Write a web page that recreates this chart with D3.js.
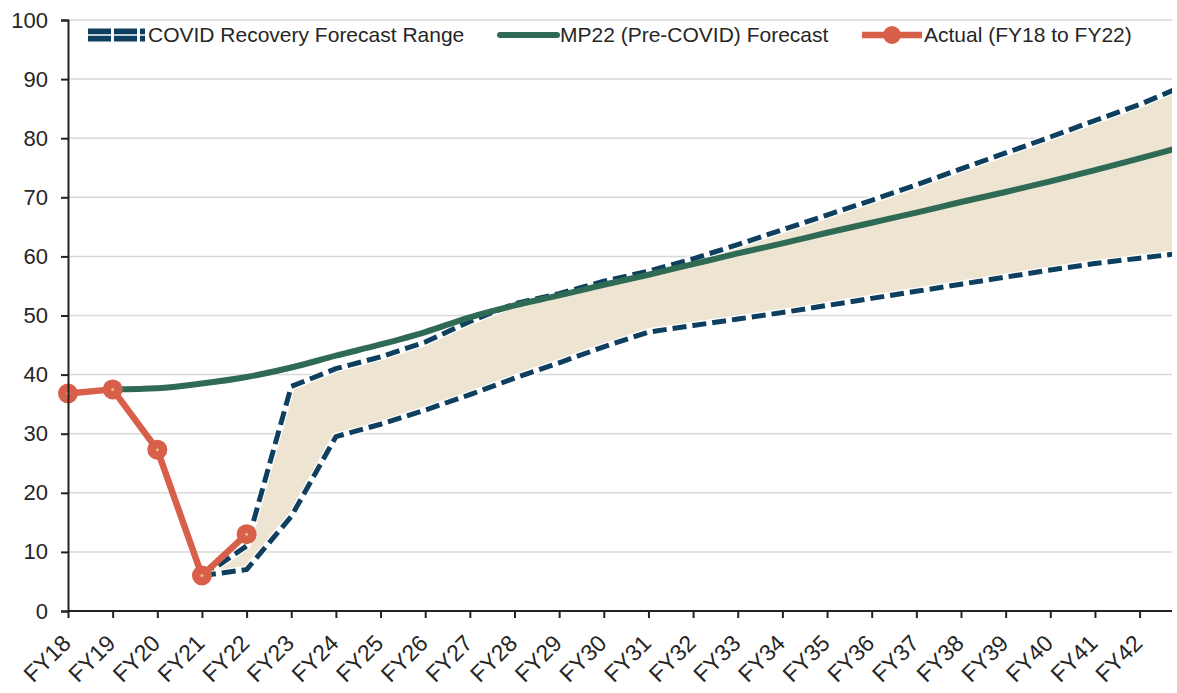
<!DOCTYPE html>
<html>
<head>
<meta charset="utf-8">
<script src="https://cdn.jsdelivr.net/npm/d3@7"></script>
<style>
  body { margin: 0; background: #fff; }
  text { font-family: "Liberation Sans", Arial, sans-serif; fill: #262626; }
</style>
</head>
<body>
<div id="chart"></div>
<script>
// categories (FY43 only continues the lines past the right edge, it is not labelled)
var years = ["FY18","FY19","FY20","FY21","FY22","FY23","FY24","FY25","FY26","FY27","FY28","FY29","FY30",
             "FY31","FY32","FY33","FY34","FY35","FY36","FY37","FY38","FY39","FY40","FY41","FY42","FY43"];
var tickLabels = years.slice(0, 25);
var yTicks = [0, 10, 20, 30, 40, 50, 60, 70, 80, 90, 100];

// series values (null = no value)
var mp22 = [null, 37.5, 37.7, 38.5, 39.6, 41.2, 43.2, 45.1, 47.2, 49.7, 51.7, 53.4, 55.2,
            56.9, 58.7, 60.5, 62.2, 64.0, 65.7, 67.4, 69.2, 70.9, 72.7, 74.6, 76.6, 78.6];
var rangeHigh = [null, null, null, 5.8, 11.0, 38.0, 41.0, 43.0, 45.5, 49.0, 52.0, 53.7, 55.8,
                 57.5, 59.6, 62.0, 64.5, 67.0, 69.5, 72.1, 74.8, 77.5, 80.2, 83.0, 85.7, 88.9];
var rangeLow = [null, null, null, 6.0, 7.0, 16.0, 29.5, 31.6, 34.0, 36.6, 39.4, 42.0, 44.7,
                47.2, 48.3, 49.4, 50.5, 51.7, 52.9, 54.1, 55.3, 56.5, 57.7, 58.8, 59.7, 60.6];
var actual = [36.8, 37.5, 27.3, 6.0, 13.0];

var legendNames = ["COVID Recovery Forecast Range", "MP22 (Pre-COVID) Forecast", "Actual (FY18 to FY22)"];

function drawChart() {
    var w = 1177, h = 693;
    var left = 68, right = 1172, top = 20, bottom = 611;

    var svg = d3.select("#chart").append("svg")
        .attr("width", w)
        .attr("height", h);

    var x = d3.scalePoint().domain(years).range([left, left + 25 * 44.65]);
    var y = d3.scaleLinear().domain([0, 100]).range([bottom, top]);

    svg.append("clipPath").attr("id", "plotclip")
        .append("rect").attr("x", 0).attr("y", 0).attr("width", right).attr("height", h);

    // gridlines
    svg.append("g").selectAll("line")
        .data(yTicks.slice(1))
        .enter().append("line")
        .attr("x1", left).attr("x2", right)
        .attr("y1", d => y(d)).attr("y2", d => y(d))
        .attr("stroke", "#d9d9d9").attr("stroke-width", 1.5);

    var plot = svg.append("g").attr("clip-path", "url(#plotclip)");

    var idx = d3.range(years.length);
    var rangeIdx = idx.filter(i => rangeHigh[i] != null);

    // forecast band
    plot.append("path")
        .datum(rangeIdx)
        .attr("d", d3.area()
            .x(i => x(years[i]))
            .y0(i => y(rangeLow[i]))
            .y1(i => y(rangeHigh[i])))
        .attr("fill", "#eee4d2");

    // dashed range lines with a white halo
    [rangeHigh, rangeLow].forEach(function(series) {
        var line = d3.line().x(i => x(years[i])).y(i => y(series[i]));
        plot.append("path").datum(rangeIdx).attr("d", line)
            .attr("fill", "none").attr("stroke", "#fff").attr("stroke-width", 7.5)
            .attr("stroke-linejoin", "round");
        plot.append("path").datum(rangeIdx).attr("d", line)
            .attr("fill", "none").attr("stroke", "#0e3f5e").attr("stroke-width", 5)
            .attr("stroke-dasharray", "14,6").attr("stroke-linejoin", "round");
    });

    // MP22 forecast
    var mpIdx = idx.filter(i => mp22[i] != null);
    plot.append("path").datum(mpIdx)
        .attr("d", d3.line().x(i => x(years[i])).y(i => y(mp22[i])).curve(d3.curveMonotoneX))
        .attr("fill", "none").attr("stroke", "#2f6a55").attr("stroke-width", 6);

    // actual
    var actIdx = d3.range(actual.length);
    plot.append("path").datum(actIdx)
        .attr("d", d3.line().x(i => x(years[i])).y(i => y(actual[i])))
        .attr("fill", "none").attr("stroke", "#d8604a").attr("stroke-width", 6.5)
        .attr("stroke-linejoin", "round");
    plot.selectAll("circle.act").data(actIdx).enter().append("circle")
        .attr("cx", i => x(years[i])).attr("cy", i => y(actual[i]))
        .attr("r", 10).attr("fill", "#d8604a");
    plot.selectAll("circle.dot").data(actIdx).enter().append("circle")
        .attr("cx", i => x(years[i])).attr("cy", i => y(actual[i]))
        .attr("r", 1.5).attr("fill", "#e8c070");

    // y axis
    var yAxis = svg.append("g")
        .attr("transform", "translate(" + left + ",0)")
        .call(d3.axisLeft(y).tickValues(yTicks).tickSize(7).tickPadding(13));
    yAxis.select(".domain").attr("stroke", "#222").attr("stroke-width", 2);
    yAxis.selectAll(".tick line").attr("stroke", "#222").attr("stroke-width", 2);
    yAxis.selectAll("text").style("font-size", "22px").attr("fill", "#262626")
        .style("font-family", "Liberation Sans, Arial, sans-serif");

    // x axis
    var xAxis = svg.append("g")
        .attr("transform", "translate(0," + bottom + ")")
        .call(d3.axisBottom(x).tickValues(tickLabels).tickSize(7).tickSizeOuter(0));
    xAxis.select(".domain").attr("d", "M" + left + ",0H" + right)
        .attr("stroke", "#222").attr("stroke-width", 2);
    xAxis.selectAll(".tick line").attr("stroke", "#222").attr("stroke-width", 2);
    xAxis.selectAll("text")
        .style("font-size", "23px").attr("fill", "#262626")
        .style("font-family", "Liberation Sans, Arial, sans-serif")
        .attr("text-anchor", "end")
        .attr("x", 0).attr("y", 0)
        .attr("dy", "0.35em")
        .attr("transform", "translate(-2,28) rotate(-45)");

    // legend
    var legend = svg.append("g").attr("transform", "translate(0,35)");
    var lx = [88, 500, 862];

    var g0 = legend.append("g");
    g0.append("line").attr("x1", lx[0]).attr("x2", lx[0] + 57).attr("y1", 0).attr("y2", 0)
        .attr("stroke", "#0e3f5e").attr("stroke-width", 13).attr("stroke-dasharray", "23,3");
    g0.append("line").attr("x1", lx[0]).attr("x2", lx[0] + 57).attr("y1", 0).attr("y2", 0)
        .attr("stroke", "#fff").attr("stroke-width", 1.5);

    legend.append("line").attr("x1", lx[1]).attr("x2", lx[1] + 57).attr("y1", 0).attr("y2", 0)
        .attr("stroke", "#2f6a55").attr("stroke-width", 6).attr("stroke-linecap", "round");

    legend.append("line").attr("x1", lx[2]).attr("x2", lx[2] + 60).attr("y1", 0).attr("y2", 0)
        .attr("stroke", "#d8604a").attr("stroke-width", 6.5);
    legend.append("circle").attr("cx", lx[2] + 30).attr("cy", 0).attr("r", 9).attr("fill", "#d8604a");

    legend.selectAll("text.leg").data(legendNames).enter().append("text")
        .attr("x", (d, i) => [148, 560, 924][i])
        .attr("y", 0).attr("dy", "0.35em")
        .style("font-size", "21px")
        .text(d => d);
}

window.onload = drawChart;
</script>
</body>
</html>
